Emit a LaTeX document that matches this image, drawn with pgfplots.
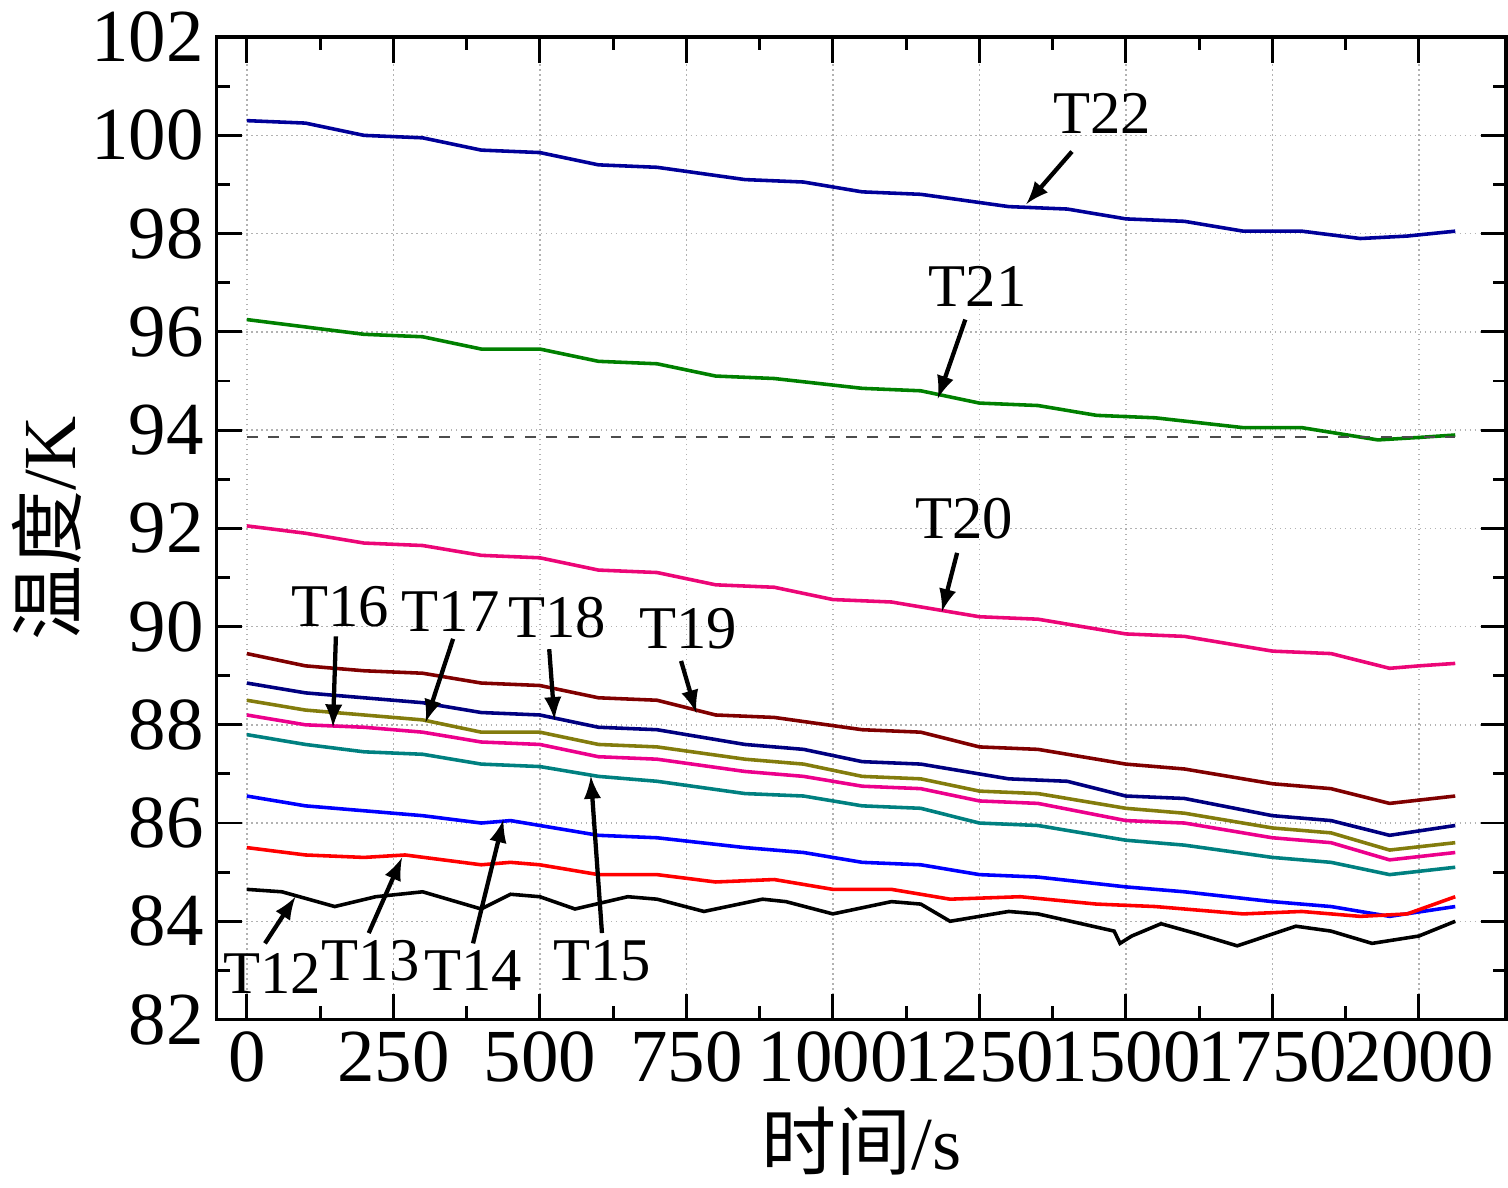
\documentclass[border=0pt]{standalone}
\usepackage{pgfplots}
\pgfplotsset{compat=1.18}
\usepackage{fontspec}
\setmainfont{Liberation Serif}
\newfontfamily\cjk{Noto Sans CJK SC}
\begin{document}
\begin{tikzpicture}
\begin{axis}[scale only axis, width=12.71cm, height=9.68cm,
 xmin=-52, xmax=2149, ymin=82, ymax=102,
 xtick={0,250,...,2000}, ytick={82,84,...,102},
 minor x tick num=1, minor y tick num=1,
 grid=major, major grid style={densely dotted, gray!60},
 tick style={black, thick}, major tick length=0.25cm, minor tick length=0.13cm,
 axis line style={line width=1pt},
 /pgf/number format/assume math mode=true,
 /pgf/number format/1000 sep={},
 ticklabel style={font=\fontsize{21}{21}\selectfont},
 xlabel={\cjk 时间\rmfamily/s}, ylabel={\cjk 温度\rmfamily/K},
 label style={font=\fontsize{21}{21}\selectfont},
 ylabel style={yshift=-4pt},
 every axis plot/.append style={line width=1pt},
 clip=false]
\addplot[blue!60!black] coordinates {(0,100.3)(100,100.25)(200,100.0)(300,99.95)(400,99.7)(500,99.65)(600,99.4)(700,99.35)(850,99.1)(950,99.05)(1050,98.85)(1150,98.8)(1300,98.55)(1400,98.5)(1500,98.3)(1600,98.25)(1700,98.05)(1800,98.05)(1900,97.9)(1980,97.95)(2062,98.05)};
\addplot[green!50!black] coordinates {(0,96.25)(100,96.1)(200,95.95)(300,95.9)(400,95.65)(500,95.65)(600,95.4)(700,95.35)(800,95.1)(900,95.05)(1050,94.85)(1150,94.8)(1250,94.55)(1350,94.5)(1450,94.3)(1550,94.25)(1700,94.05)(1800,94.05)(1930,93.8)(2000,93.85)(2062,93.9)};
\addplot[black!70, dashed, line width=0.8pt] coordinates {(0,93.86)(2062,93.86)};
\addplot[magenta!80!red] coordinates {(0,92.05)(100,91.9)(200,91.7)(300,91.65)(400,91.45)(500,91.4)(600,91.15)(700,91.1)(800,90.85)(900,90.8)(1000,90.55)(1100,90.5)(1250,90.2)(1350,90.15)(1500,89.85)(1600,89.8)(1750,89.5)(1850,89.45)(1950,89.15)(2000,89.2)(2062,89.25)};
\addplot[red!50!black] coordinates {(0,89.45)(100,89.2)(200,89.1)(300,89.05)(400,88.85)(500,88.8)(600,88.55)(700,88.5)(800,88.2)(900,88.15)(1050,87.9)(1150,87.85)(1250,87.55)(1350,87.5)(1500,87.2)(1600,87.1)(1750,86.8)(1850,86.7)(1950,86.4)(2062,86.55)};
\addplot[blue!50!black] coordinates {(0,88.85)(100,88.65)(200,88.55)(300,88.45)(400,88.25)(500,88.2)(600,87.95)(700,87.9)(850,87.6)(950,87.5)(1050,87.25)(1150,87.2)(1300,86.9)(1400,86.85)(1500,86.55)(1600,86.5)(1750,86.15)(1850,86.05)(1950,85.75)(2062,85.95)};
\addplot[olive!90!black] coordinates {(0,88.5)(100,88.3)(200,88.2)(300,88.1)(400,87.85)(500,87.85)(600,87.6)(700,87.55)(850,87.3)(950,87.2)(1050,86.95)(1150,86.9)(1250,86.65)(1350,86.6)(1500,86.3)(1600,86.2)(1750,85.9)(1850,85.8)(1950,85.45)(2062,85.6)};
\addplot[magenta] coordinates {(0,88.2)(100,88.0)(200,87.95)(300,87.85)(400,87.65)(500,87.6)(600,87.35)(700,87.3)(850,87.05)(950,86.95)(1050,86.75)(1150,86.7)(1250,86.45)(1350,86.4)(1500,86.05)(1600,86.0)(1750,85.7)(1850,85.6)(1950,85.25)(2062,85.4)};
\addplot[teal] coordinates {(0,87.8)(100,87.6)(200,87.45)(300,87.4)(400,87.2)(500,87.15)(600,86.95)(700,86.85)(850,86.6)(950,86.55)(1050,86.35)(1150,86.3)(1250,86.0)(1350,85.95)(1500,85.65)(1600,85.55)(1750,85.3)(1850,85.2)(1950,84.95)(2062,85.1)};
\addplot[blue] coordinates {(0,86.55)(100,86.35)(200,86.25)(300,86.15)(400,86.0)(450,86.05)(500,85.95)(600,85.75)(700,85.7)(850,85.5)(950,85.4)(1050,85.2)(1150,85.15)(1250,84.95)(1350,84.9)(1500,84.7)(1600,84.6)(1750,84.4)(1850,84.3)(1950,84.1)(2062,84.3)};
\addplot[red] coordinates {(0,85.5)(100,85.35)(200,85.3)(270,85.35)(400,85.15)(450,85.2)(500,85.15)(600,84.95)(700,84.95)(800,84.8)(900,84.85)(1000,84.65)(1100,84.65)(1200,84.45)(1320,84.5)(1450,84.35)(1550,84.3)(1700,84.15)(1800,84.2)(1900,84.1)(1980,84.15)(2062,84.5)};
\addplot[black] coordinates {(0,84.65)(60,84.6)(150,84.3)(220,84.5)(300,84.6)(400,84.25)(450,84.55)(500,84.5)(560,84.25)(650,84.5)(700,84.45)(780,84.2)(880,84.45)(920,84.4)(1000,84.15)(1100,84.4)(1150,84.35)(1200,84.0)(1300,84.2)(1350,84.15)(1480,83.8)(1490,83.55)(1510,83.7)(1560,83.95)(1620,83.75)(1690,83.5)(1790,83.9)(1850,83.8)(1920,83.55)(2000,83.7)(2062,84.0)};
\tikzset{lab/.style={font=\fontsize{17}{17}\selectfont}, arr/.style={-latex, line width=1.2pt}}
\node[lab] at (axis cs:1460,100.45) {T22}; \draw[arr] (axis cs:1408,99.67)--(axis cs:1330,98.6);
\node[lab] at (axis cs:1247,96.92) {T21}; \draw[arr] (axis cs:1226,96.25)--(axis cs:1179,94.64);
\node[lab] at (axis cs:1224,92.19) {T20}; \draw[arr] (axis cs:1212,91.5)--(axis cs:1186,90.3);
\node[lab] at (axis cs:753,89.95) {T19}; \draw[arr] (axis cs:741,89.3)--(axis cs:767,88.24);
\node[lab] at (axis cs:530,90.18) {T18}; \draw[arr] (axis cs:516,89.54)--(axis cs:525,88.1);
\node[lab] at (axis cs:348,90.3) {T17}; \draw[arr] (axis cs:352,89.75)--(axis cs:305,88.05);
\node[lab] at (axis cs:159,90.4) {T16}; \draw[arr] (axis cs:152,89.8)--(axis cs:147,87.95);
\node[lab] at (axis cs:606,83.2) {T15}; \draw[arr] (axis cs:606,83.76)--(axis cs:587,86.96);
\node[lab] at (axis cs:386,82.99) {T14}; \draw[arr] (axis cs:386,83.55)--(axis cs:438,86.07);
\node[lab] at (axis cs:211,83.2) {T13}; \draw[arr] (axis cs:208,83.76)--(axis cs:265,85.3);
\node[lab] at (axis cs:43,82.93) {T12}; \draw[arr] (axis cs:31,83.55)--(axis cs:83,84.5);
\end{axis}
\end{tikzpicture}
\end{document}
